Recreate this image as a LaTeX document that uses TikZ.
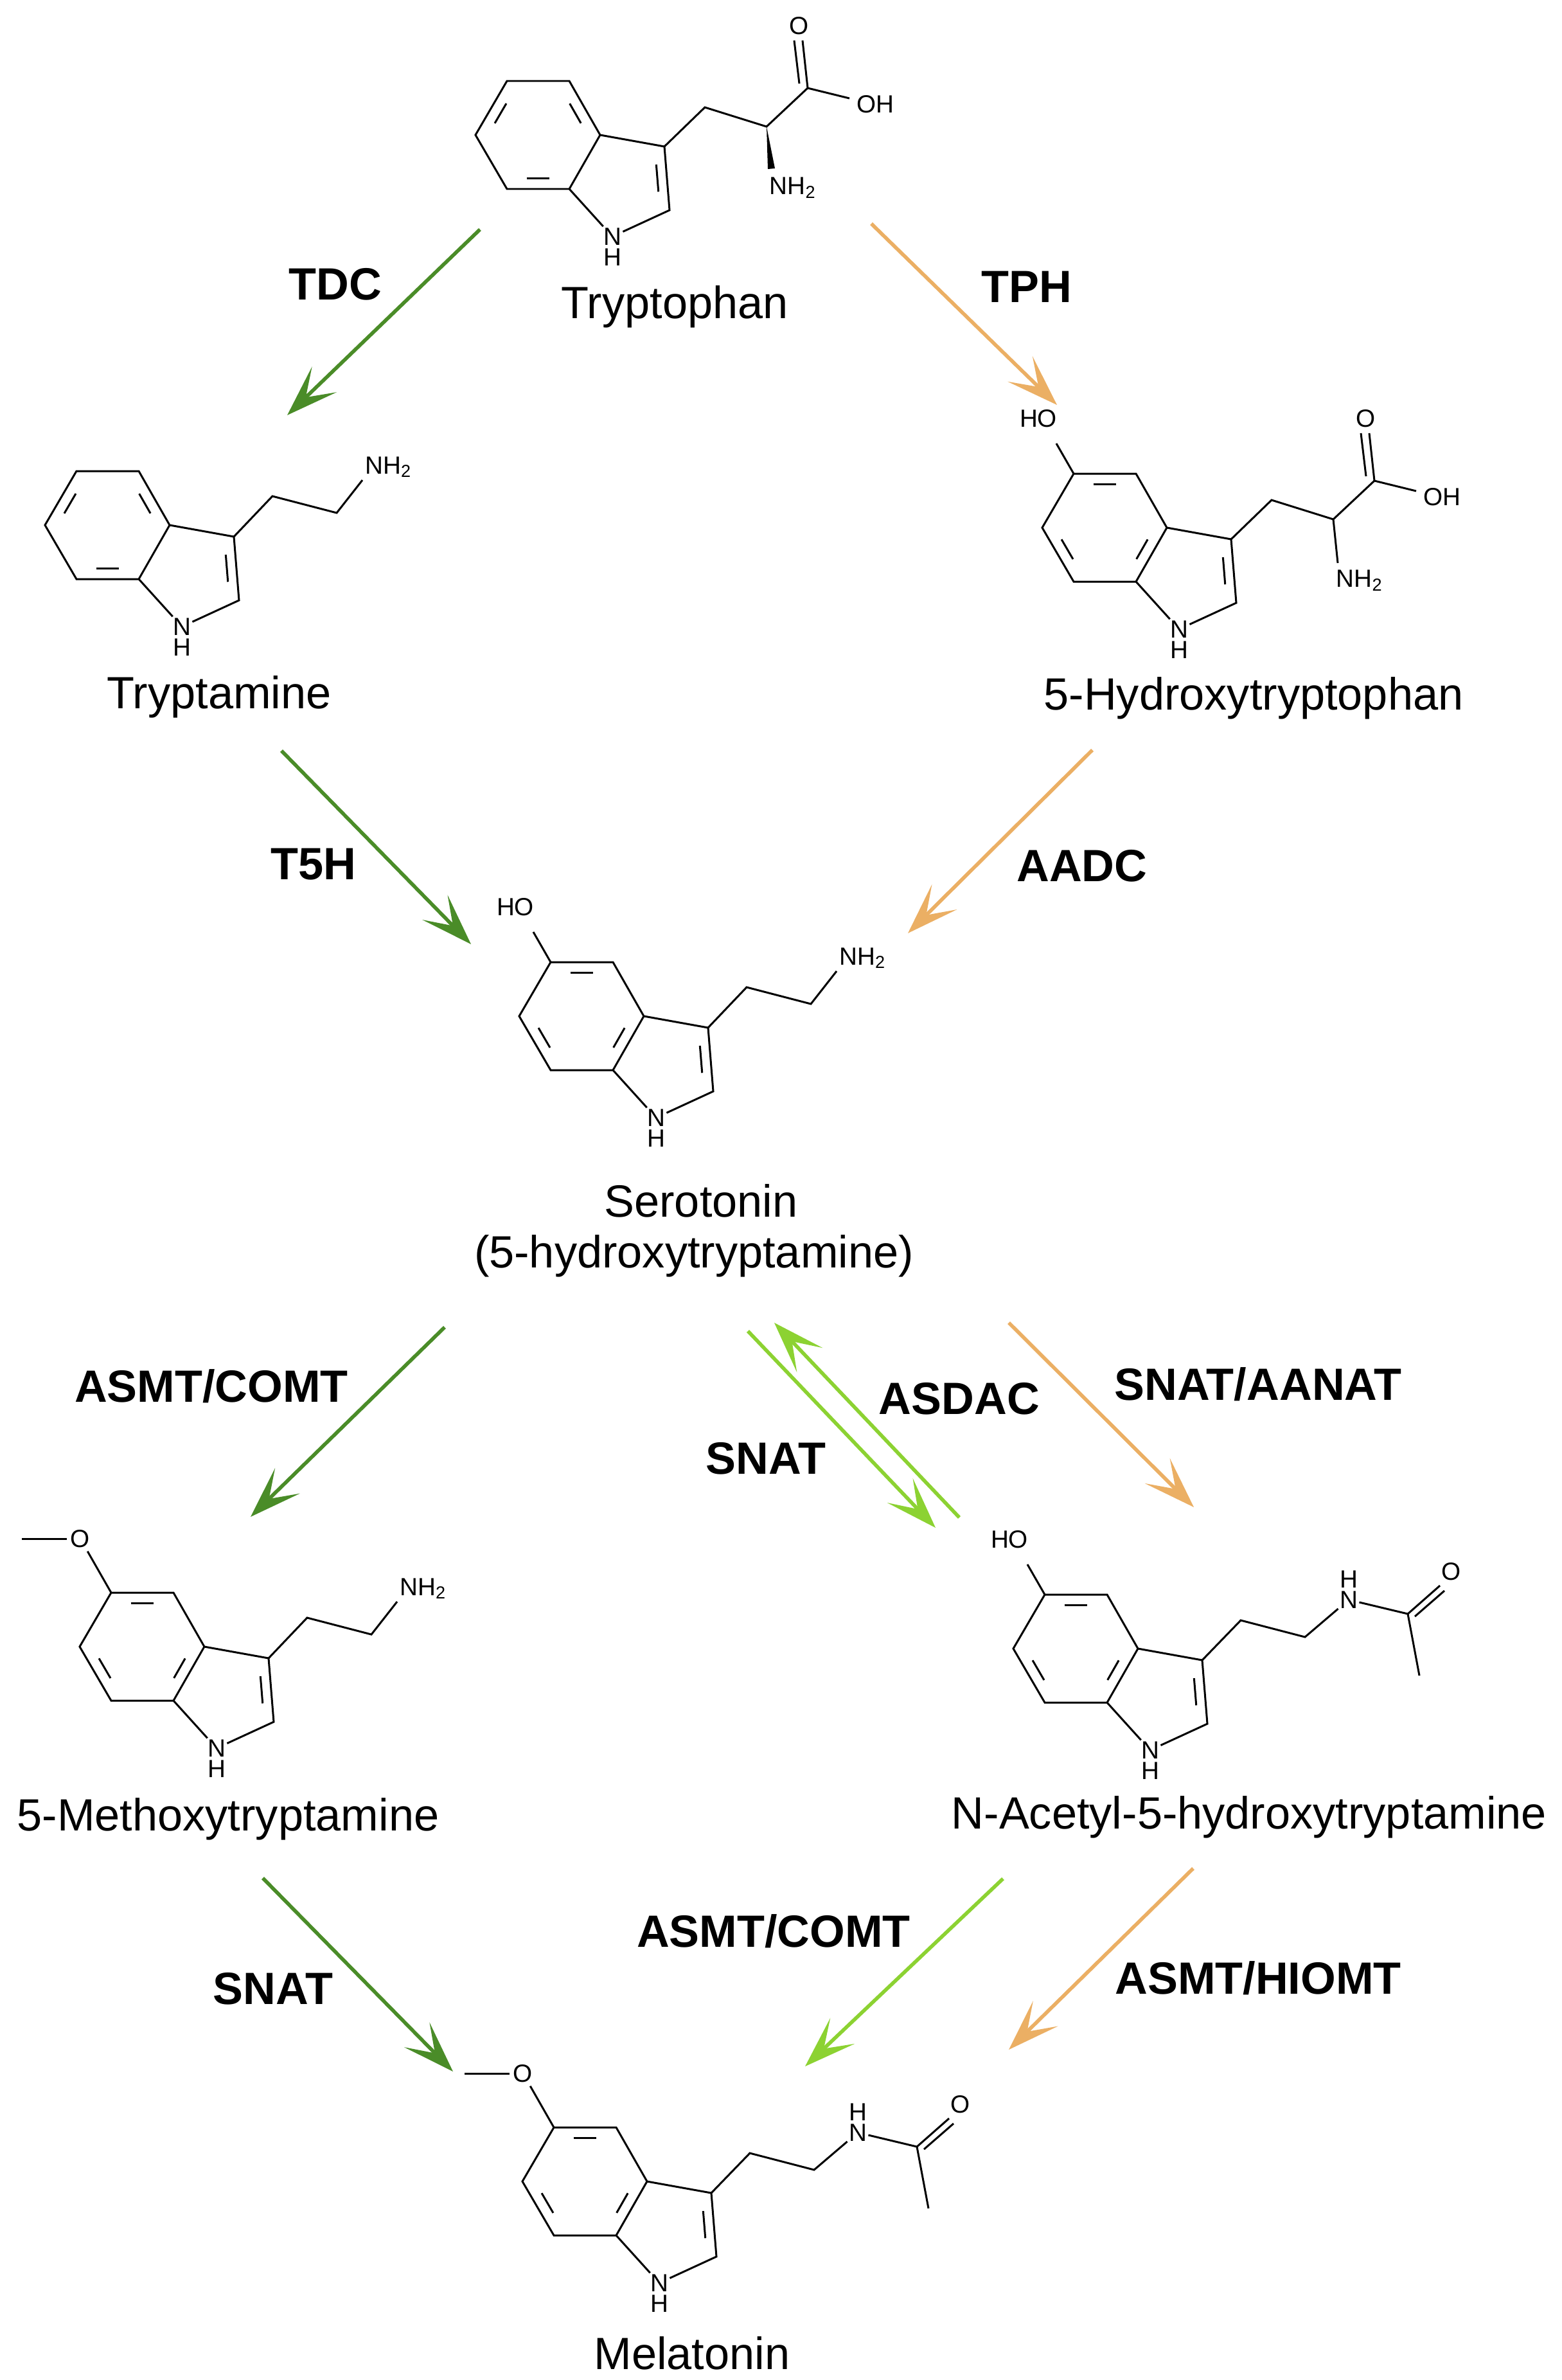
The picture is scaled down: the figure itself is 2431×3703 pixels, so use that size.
\documentclass[tikz,border=0pt]{standalone}
\usepackage{fontspec}
\setmainfont{Liberation Sans}
\usetikzlibrary{arrows.meta,calc}
\definecolor{dgreen}{RGB}{74,140,40}
\definecolor{lgreen}{RGB}{140,210,50}
\definecolor{orng}{RGB}{235,175,100}
\tikzset{
  bond/.style={line width=0.85pt,black},
  atom/.style={font=\fontsize{11}{12}\selectfont,inner sep=1.5pt},
  cname/.style={font=\fontsize{20}{24}\selectfont},
  enz/.style={font=\fontsize{20}{24}\selectfont\bfseries},
  rxn/.style={line width=1.6pt,-{Stealth[length=8mm,width=5.5mm,inset=4mm]}},
}
% indole core; #1 = position of C3a, #2 = 1 (variant A) or 2 (5-substituted)
\newcommand{\indolecore}[2]{%
  \coordinate (a3a) at (0,0); \coordinate (a4) at (-48,-84); \coordinate (a5) at (-145,-84);
  \coordinate (a6) at (-194,0); \coordinate (a7) at (-145,84); \coordinate (a7a) at (-48,84);
  \coordinate (a3) at (100,18); \coordinate (a2) at (108,117);
  \coordinate (bc) at (-97,0); \coordinate (pc) at (36,66);
  \node[atom,inner sep=0.5pt] (aN) at (19,158) {N};
  \node[atom,inner sep=0.5pt] (aH) at (19,190) {H};
  \draw[bond] (a3a)--(a4)--(a5)--(a6)--(a7)--(a7a)--(a3a)--(a3)--(a2)--(aN)--(a7a);
  \draw[bond,shorten >=5,shorten <=5] ($(pc)!0.78!(a3)$)--($(pc)!0.78!(a2)$);
  \ifnum#2=1
    \draw[bond,shorten >=6,shorten <=6] ($(bc)!0.8!(a6)$)--($(bc)!0.8!(a5)$);
    \draw[bond,shorten >=6,shorten <=6] ($(bc)!0.8!(a4)$)--($(bc)!0.8!(a3a)$);
    \draw[bond,shorten >=6,shorten <=6] ($(bc)!0.8!(a7)$)--($(bc)!0.8!(a7a)$);
  \else
    \draw[bond,shorten >=6,shorten <=6] ($(bc)!0.8!(a5)$)--($(bc)!0.8!(a4)$);
    \draw[bond,shorten >=6,shorten <=6] ($(bc)!0.8!(a6)$)--($(bc)!0.8!(a7)$);
    \draw[bond,shorten >=6,shorten <=6] ($(bc)!0.8!(a7a)$)--($(bc)!0.8!(a3a)$);
  \fi}
\newcommand{\ethylamine}{%
  \node[atom,anchor=south west,inner sep=1pt] (nh) at (300,-70) {NH\textsubscript{2}};
  \draw[bond] (a3)--(160,-45)--(260,-19)--(nh.south west);}
\newcommand{\aminoacid}[1]{%
  \draw[bond] (a3)--(163,-43)--(259,-13)--(323,-73)--(388,-57);
  \draw[bond] (323,-73)--(315,-147); \draw[bond] (310,-80)--(302,-147);
  \node[atom] at (310,-170) {O};
  \node[atom] at (428,-48) {OH};
  \node[atom] at (300,82) {NH\textsubscript{2}};
  \ifnum#1=1
    \fill (259,-13)--(261,53)--(272,52)--cycle;
  \else
    \draw[bond] (259,-13)--(266,55);
  \fi}
\newcommand{\acetamide}{%
  \node[atom,inner sep=0.5pt] (an) at (328,-76) {N};
  \node[atom,inner sep=0.5pt] at (328,-108) {H};
  \draw[bond] (a3)--(160,-44)--(260,-18)--(an);
  \draw[bond] (an)--(420,-54)--(470,-98);
  \draw[bond] (431,-50)--(477,-90);
  \draw[bond] (420,-54)--(438,42);
  \node[atom] at (488,-120) {O};}
\newcommand{\hydroxy}{%
  \node[atom,anchor=south] (ho) at (-200,-150) {HO};
  \draw[bond] (a5)--(-172,-131);}
\newcommand{\methoxy}{%
  \node[atom] (om) at (-193,-168) {O};
  \draw[bond] (a5)--(om); \draw[bond] (om.west)--(-284,-168);}
\begin{document}
\begin{tikzpicture}[x=0.01cm,y=-0.01cm]
\useasboundingbox (0,0) rectangle (2431,3703);
% molecules
\begin{scope}[shift={(934,210)}]\indolecore{}{1}\aminoacid{1}\end{scope}
\begin{scope}[shift={(264,817)}]\indolecore{}{1}\ethylamine\end{scope}
\begin{scope}[shift={(1816,821)}]\indolecore{}{2}\hydroxy\aminoacid{2}\end{scope}
\begin{scope}[shift={(1002,1581)}]\indolecore{}{2}\hydroxy\ethylamine\end{scope}
\begin{scope}[shift={(318,2562)}]\indolecore{}{2}\methoxy\ethylamine\end{scope}
\begin{scope}[shift={(1771,2565)}]\indolecore{}{2}\hydroxy\acetamide\end{scope}
\begin{scope}[shift={(1007,3394)}]\indolecore{}{2}\methoxy\acetamide\end{scope}
% compound names
\node[cname] (trp) at (1050,477) {Tryptophan};
\node[cname] (tra) at (341,1084) {Tryptamine};
\node[cname] (htp) at (1951,1086) {5-Hydroxytryptophan};
\node[cname] (ser) at (1091,1868) {Serotonin};
\node[cname] (ser2) at (1080,1954) {(5-hydroxytryptamine)};
\node[cname] (mt) at (355,2830) {5-Methoxytryptamine};
\node[cname] (nas) at (1944,2827) {N-Acetyl-5-hydroxytryptamine};
\node[cname] (mel) at (1077,3661) {Melatonin};
% arrow endpoints
\coordinate (s1) at (747,357); \coordinate (e1) at (447,646);
\coordinate (s2) at (1356,348); \coordinate (e2) at (1645,630);
\coordinate (s3) at (438,1168); \coordinate (e3) at (733,1469);
\coordinate (s4) at (1700,1167); \coordinate (e4) at (1413,1452);
\coordinate (s5) at (692,2065); \coordinate (e5) at (390,2360);
\coordinate (s6) at (1164,2071); \coordinate (e6) at (1456,2377);
\coordinate (s7) at (1493,2361); \coordinate (e7) at (1205,2058);
\coordinate (s8) at (1570,2058); \coordinate (e8) at (1858,2345);
\coordinate (s9) at (409,2922); \coordinate (e9) at (705,3223);
\coordinate (s10) at (1561,2923); \coordinate (e10) at (1253,3215);
\coordinate (s11) at (1857,2907); \coordinate (e11) at (1570,3189);
\draw[rxn,dgreen] (s1)--(e1);
\draw[rxn,orng] (s2)--(e2);
\draw[rxn,dgreen] (s3)--(e3);
\draw[rxn,orng] (s4)--(e4);
\draw[rxn,dgreen] (s5)--(e5);
\draw[rxn,lgreen] (s6)--(e6);
\draw[rxn,lgreen] (s7)--(e7);
\draw[rxn,orng] (s8)--(e8);
\draw[rxn,dgreen] (s9)--(e9);
\draw[rxn,lgreen] (s10)--(e10);
\draw[rxn,orng] (s11)--(e11);
% enzyme labels
\node[enz] (l1) at (522,442) {TDC};
\node[enz] (l2) at (1598,446) {TPH};
\node[enz] (l3) at (488,1345) {T5H};
\node[enz] (l4) at (1684,1347) {AADC};
\node[enz] (l5) at (329,2157) {ASMT/COMT};
\node[enz] (l6) at (1192,2269) {SNAT};
\node[enz] (l7) at (1493,2176) {ASDAC};
\node[enz] (l8) at (1958,2154) {SNAT/AANAT};
\node[enz] (l9) at (425,3094) {SNAT};
\node[enz] (l10) at (1204,3005) {ASMT/COMT};
\node[enz] (l11) at (1958,3078) {ASMT/HIOMT};
\end{tikzpicture}
\end{document}
